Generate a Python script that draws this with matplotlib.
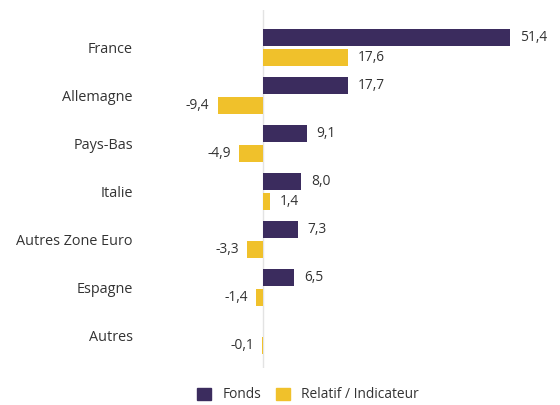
import matplotlib.pyplot as plt
import numpy as np
from matplotlib.patches import Patch

plt.rcParams['font.family'] = ['Open Sans', 'DejaVu Sans']

# data
categories = ['France', 'Allemagne', 'Pays-Bas', 'Italie', 'Autres Zone Euro', 'Espagne', 'Autres']
fonds = [51.4, 17.7, 9.1, 8.0, 7.3, 6.5, np.nan]
relatif = [17.6, -9.4, -4.9, 1.4, -3.3, -1.4, -0.1]

purple = '#3b2c5e'
yellow = '#f0c12b'
txt = '#333333'

fig = plt.figure(figsize=(5.6, 4.05), dpi=100)
ax = fig.add_axes([0.252, 0.0914, 0.721, 0.884])

y = np.arange(len(categories))
h = 0.355
off = 0.208
ax.barh(y - off, fonds, height=h, color=purple)
ax.barh(y + off, relatif, height=h, color=yellow)

def fmt(v):
    return f'{v:.1f}'.replace('.', ',')

# value labels
for i in range(len(categories)):
    for v, yy in ((fonds[i], y[i] - off), (relatif[i], y[i] + off)):
        if np.isnan(v):
            continue
        if v >= 0:
            ax.annotate(fmt(v), (v, yy), xytext=(7, 0), textcoords='offset points',
                        ha='left', va='center', fontsize=9.9, color=txt)
        else:
            ax.annotate(fmt(v), (v, yy), xytext=(-6, 0), textcoords='offset points',
                        ha='right', va='center', fontsize=9.9, color=txt)

ax.axvline(0, color='#e3e3e3', lw=1, zorder=0)
ax.set_xlim(-25.3, 58.6)
ax.set_ylim(6.68, -0.78)
ax.set_yticks(y)
ax.set_yticklabels(categories, fontsize=10.4, color=txt)
ax.tick_params(axis='y', length=0, pad=6)
ax.set_xticks([])
for s in ax.spines.values():
    s.set_visible(False)

handles = [Patch(color=purple, label='Fonds'), Patch(color=yellow, label='Relatif / Indicateur')]
fig.legend(handles=handles, loc='center', bbox_to_anchor=(0.55, 0.025), ncol=2, frameon=False,
           fontsize=9.9, handlelength=1.0, handleheight=1.0, columnspacing=1.1, handletextpad=0.8,
           labelcolor=txt)

fig.savefig('out.png', dpi=100)
